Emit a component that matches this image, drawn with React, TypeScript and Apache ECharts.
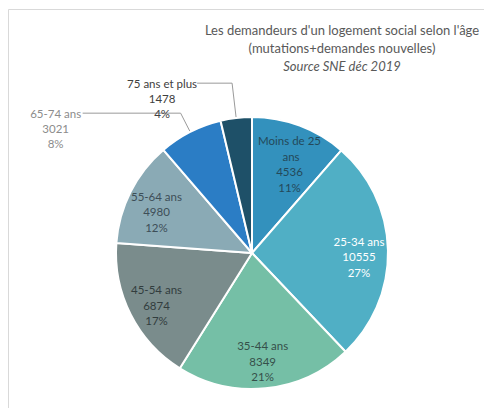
import React, { useEffect, useRef } from "react";
import * as echarts from "echarts";

const categories = ["Moins de 25 ans", "25-34 ans", "35-44 ans", "45-54 ans", "55-64 ans", "65-74 ans", "75 ans et plus"];
const values = [4536, 10555, 8349, 6874, 4980, 3021, 1478];
const colors = ["#3391BD", "#50AFC5", "#75BFA6", "#7A8C8C", "#8AAAB5", "#2B7DC5", "#1E5068"];
const insideLabelColors = ["#24495a", "#ffffff", "#35504a", "#323d3e", "#3d4e57", null, null];
const insideLabelShift = [11, 6, 2, 4, 7, 0, 0];
const outsideLabelColors = [null, null, null, null, null, "#8c8c8c", "#404040"];
const lineLengths = [0, 0, 0, 0, 0, 21, 35];
const line2Lengths = [0, 0, 0, 0, 0, 98, 35];
const outsideWidths = [0, 0, 0, 0, 0, 50, 66];
const titleLines = ["Les demandeurs d'un logement social selon l'âge", "(mutations+demandes nouvelles)", "Source SNE déc 2019"];

const FONT = "Lato, 'Open Sans', sans-serif";

export default function App() {
  const ref = useRef<HTMLDivElement>(null);
  useEffect(() => {
    if (!ref.current) return;
    const chart = echarts.init(ref.current, undefined, { renderer: "svg" });
    const base = categories.map((name, i) => ({ name, value: values[i] }));

    const mainData = base.map((d, i) => {
      const outside = outsideLabelColors[i] !== null;
      const w = outsideWidths[i];
      return {
        ...d,
        itemStyle: { color: colors[i] },
        label: outside
          ? {
              show: true,
              position: "outside",
              formatter: "{a|{b}}\n{a|{c}}\n{a|{d}%}",
              padding: [30, 0, 0, 0],
              rich: {
                a: {
                  width: w,
                  align: "center",
                  fontSize: 11.5,
                  lineHeight: 15,
                  fontFamily: FONT,
                  color: outsideLabelColors[i],
                },
              },
            }
          : { show: false },
        labelLine: outside
          ? {
              show: true,
              length: lineLengths[i],
              length2: line2Lengths[i],
              lineStyle: { color: "#9a9a9a", width: 1 },
            }
          : { show: false },
      };
    });

    const innerData = base.map((d, i) => {
      const inside = insideLabelColors[i] !== null;
      return {
        ...d,
        itemStyle: { color: "rgba(0,0,0,0)" },
        label: inside
          ? {
              show: true,
              position: "inside",
              formatter: "{b}\n{c}\n{d}%",
              color: insideLabelColors[i],
              width: 66,
              overflow: "break",
              fontSize: 11.5,
              lineHeight: 15.5,
              fontFamily: FONT,
              align: "center",
            }
          : { show: false },
        labelLine: { show: false },
      };
    });

    chart.setOption({
      animation: false,
      backgroundColor: "#ffffff",
      graphic: [
        { type: "line", shape: { x1: 0.5, y1: 1.5, x2: 484, y2: 1.5 }, style: { stroke: "#d9d9d9", lineWidth: 1 } },
        { type: "line", shape: { x1: 0.5, y1: 1.5, x2: 0.5, y2: 400 }, style: { stroke: "#d9d9d9", lineWidth: 1 } },
        {
          type: "text",
          x: 334,
          y: 13,
          style: {
            text: `{a|${titleLines[0]}}\n{a|${titleLines[1]}}\n{b|${titleLines[2]}}`,
            align: "center",
            verticalAlign: "top",
            rich: {
              a: { fontSize: 13, lineHeight: 18, fontFamily: FONT, fill: "#595959", align: "center" },
              b: { fontSize: 13, lineHeight: 18, fontFamily: FONT, fill: "#595959", fontStyle: "italic", align: "center" },
            },
          },
        },
      ],
      series: [
        {
          type: "pie",
          center: [244, 245],
          radius: [0, 136],
          startAngle: 90,
          clockwise: true,
          avoidLabelOverlap: false,
          percentPrecision: 0,
          itemStyle: { borderColor: "#ffffff", borderWidth: 2 },
          label: { distanceToLabelLine: 2 },
          emphasis: { disabled: true },
          data: mainData,
        },
        {
          type: "pie",
          center: [244, 245],
          radius: [72, 136],
          startAngle: 90,
          clockwise: true,
          silent: true,
          avoidLabelOverlap: false,
          percentPrecision: 0,
          emphasis: { disabled: true },
          labelLayout: (params: any) => ({ dy: insideLabelShift[params.dataIndex] }),
          data: innerData,
        },
      ],
    });
    return () => chart.dispose();
  }, []);
  return <div ref={ref} style={{ width: 484, height: 400 }} />;
}
